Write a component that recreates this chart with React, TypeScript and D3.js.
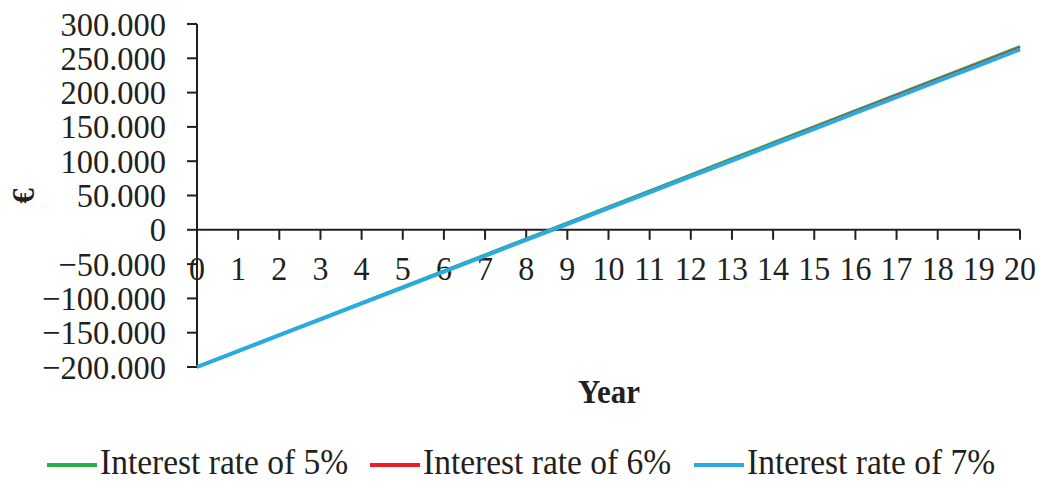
import React from "react";
import * as d3 from "d3";

const years = d3.range(0, 21);
const yTicks = [-200000, -150000, -100000, -50000, 0, 50000, 100000, 150000, 200000, 250000, 300000];
const rate5 = [-200000, -176650, -153300, -129950, -106600, -83250, -59900, -36550, -13200, 10150, 33500, 56850, 80200, 103550, 126900, 150250, 173600, 196950, 220300, 243650, 267000];
const rate6 = [-200000, -176700, -153400, -130100, -106800, -83500, -60200, -36900, -13600, 9700, 33000, 56300, 79600, 102900, 126200, 149500, 172800, 196100, 219400, 242700, 266000];
const rate7 = [-200000, -176850, -153700, -130550, -107400, -84250, -61100, -37950, -14800, 8350, 31500, 54650, 77800, 100950, 124100, 147250, 170400, 193550, 216700, 239850, 263000];
const seriesNames = ["Interest rate of 5%", "Interest rate of 6%", "Interest rate of 7%"];
const seriesColors = ["#22b14c", "#ed1c24", "#29abe2"];
const seriesWidths = [3, 2, 4];

const fmt = (v: number) => {
  if (v === 0) return "0";
  const s = d3.format(",.3f")(v / 1000);
  return s.replace(",", "");
};

type TProps = {
  x: number;
  y: number;
  size: number;
  anchor?: "start" | "middle" | "end";
  weight?: string;
  sy?: number;
  children: React.ReactNode;
  fill: string;
};

function T({ x, y, size, anchor = "start", weight = "normal", sy = 1.06, children, fill }: TProps) {
  return (
    <text
      transform={`translate(${x},${y}) scale(1,${sy})`}
      textAnchor={anchor}
      fontSize={size}
      fontWeight={weight}
      fill={fill}
    >
      {children}
    </text>
  );
}

export default function App() {
  const W = 1040, H = 481;
  const x = d3.scaleLinear().domain([0, 20]).range([197, 1020]);
  const y = d3.scaleLinear().domain([-200000, 300000]).range([367, 24]);
  const line = d3.line<number>().x((_, i) => x(years[i])).y((d) => y(d));
  const data = [rate5, rate6, rate7];
  const ink = "#231f20";
  const font = "'Liberation Serif', 'Times New Roman', serif";
  const legendX = [47, 370, 694];
  return (
    <svg width={W} height={H} style={{ position: "absolute", left: 0, top: 0, background: "#fff" }} fontFamily={font}>
      <rect width={W} height={H} fill="#fff" />
      {/* y axis */}
      <line x1={x(0)} x2={x(0)} y1={y(300000)} y2={y(-200000)} stroke={ink} strokeWidth={2} />
      {yTicks.map((t) => (
        <g key={t}>
          <line x1={x(0) - 10} x2={x(0)} y1={y(t)} y2={y(t)} stroke={ink} strokeWidth={2} />
          <T x={166} y={y(t) + 11.5} size={32.5} anchor="end" fill={ink}>{fmt(t)}</T>
        </g>
      ))}
      {/* x axis */}
      <line x1={x(0)} x2={x(20)} y1={y(0)} y2={y(0)} stroke={ink} strokeWidth={2} />
      {years.map((yr) => (
        <g key={yr}>
          <line x1={x(yr)} x2={x(yr)} y1={y(0)} y2={y(0) + 10} stroke={ink} strokeWidth={2} />
          <T x={x(yr)} y={280} size={32} anchor="middle" fill={ink}>{yr}</T>
        </g>
      ))}
      {/* lines */}
      {data.map((d, i) => (
        <path key={i} d={line(d) || ""} fill="none" stroke={seriesColors[i]} strokeWidth={seriesWidths[i]} />
      ))}
      {/* axis titles */}
      <T x={609} y={403} size={31} anchor="middle" weight="bold" sy={1.12} fill={ink}>Year</T>
      <text transform="translate(34,196) rotate(-90)" textAnchor="middle" fontSize={31} fontWeight="bold" fill={ink}>€</text>
      {/* legend */}
      {seriesNames.map((n, i) => (
        <g key={n}>
          <line x1={legendX[i]} x2={legendX[i] + 50} y1={465} y2={465} stroke={seriesColors[i]} strokeWidth={4} />
          <T x={legendX[i] + 53} y={474} size={33.5} sy={1.04} fill={ink}>{n}</T>
        </g>
      ))}
    </svg>
  );
}
